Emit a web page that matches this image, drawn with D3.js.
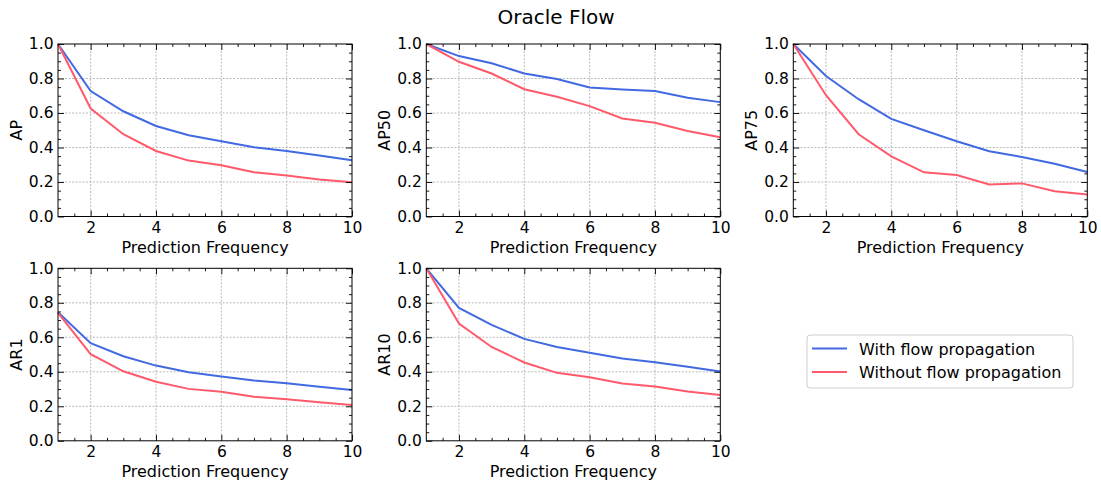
<!DOCTYPE html>
<html><head><meta charset="utf-8">
<script src="https://cdn.jsdelivr.net/npm/d3@7"></script>
<style>body{margin:0;background:#fff}svg{display:block}text{font-family:"DejaVu Sans",sans-serif;fill:#000}</style>
</head><body><svg id="c" width="1101" height="484"></svg>
<script>
const frequencies = [1,2,3,4,5,6,7,8,9,10];
const metrics = ["AP","AP50","AP75","AR1","AR10"];
const seriesNames = ["With flow propagation","Without flow propagation"];
const withFlow = {
  AP:   [1.0,0.727,0.610,0.525,0.471,0.436,0.401,0.380,0.353,0.326],
  AP50: [1.0,0.930,0.888,0.829,0.797,0.748,0.736,0.727,0.688,0.663],
  AP75: [1.0,0.814,0.680,0.566,0.500,0.436,0.378,0.345,0.306,0.258],
  AR1:  [0.745,0.566,0.490,0.436,0.398,0.373,0.349,0.334,0.313,0.295],
  AR10: [1.0,0.770,0.672,0.591,0.544,0.510,0.477,0.456,0.429,0.402]
};
const withoutFlow = {
  AP:   [1.0,0.626,0.477,0.380,0.324,0.297,0.256,0.238,0.215,0.198],
  AP50: [1.0,0.897,0.829,0.738,0.694,0.640,0.568,0.543,0.496,0.459],
  AP75: [1.0,0.703,0.477,0.349,0.256,0.240,0.186,0.192,0.147,0.128],
  AR1:  [0.741,0.502,0.403,0.342,0.301,0.284,0.255,0.241,0.224,0.208],
  AR10: [1.0,0.680,0.544,0.454,0.394,0.369,0.332,0.315,0.286,0.266]
};
const xMajorTicks = [2,4,6,8,10];
const yMajorTicks = [0,0.2,0.4,0.6,0.8,1.0];
const title = "Oracle Flow";
const xLabel = "Prediction Frequency";
const colors = ["#4169e1","#ff5a6b"];

const svg = d3.select("#c");
svg.append("text").attr("x",556).attr("y",23.5).attr("text-anchor","middle")
  .attr("font-size",20).text(title);

const colsX = [58, 426.3, 793.3];
const rowsY = [44, 268.3];
const W = 294, H = 172.5;

metrics.forEach((m,i)=>{
  const col = i%3, row = Math.floor(i/3);
  const g = svg.append("g").attr("transform",`translate(${colsX[col]},${rowsY[row]})`);
  const x = d3.scaleLinear().domain([1,10]).range([0,W]);
  const y = d3.scaleLinear().domain([0,1]).range([H,0]);
  const xMinor = d3.range(1.5,10,0.5).filter(v=>!xMajorTicks.includes(v));
  const yMinor = d3.range(0.05,1,0.05).map(v=>+v.toFixed(2)).filter(v=>!yMajorTicks.some(t=>Math.abs(t-v)<1e-6));
  // grid
  g.append("g").selectAll("line").data(xMajorTicks.filter(v=>v<10)).join("line")
    .attr("x1",d=>x(d)).attr("x2",d=>x(d)).attr("y1",0).attr("y2",H)
    .attr("stroke","#aaa").attr("stroke-width",0.8).attr("stroke-dasharray","2,1.5");
  g.append("g").selectAll("line").data(yMajorTicks.filter(v=>v>0&&v<1)).join("line")
    .attr("y1",d=>y(d)).attr("y2",d=>y(d)).attr("x1",0).attr("x2",W)
    .attr("stroke","#aaa").attr("stroke-width",0.8).attr("stroke-dasharray","2,1.5");
  // lines
  const line = d3.line().x((d,k)=>x(frequencies[k])).y(d=>y(d));
  [withFlow[m], withoutFlow[m]].forEach((vals,s)=>{
    g.append("path").datum(vals).attr("d",line).attr("fill","none")
      .attr("stroke",colors[s]).attr("stroke-width",2);
  });
  // axes with inward ticks
  const tickStyle = sel=>{sel.selectAll(".domain").remove();sel.selectAll("line").attr("stroke","#000").attr("stroke-width",0.9);};
  const bottom = g.append("g").attr("transform",`translate(0,${H})`)
    .call(d3.axisBottom(x).tickValues(xMajorTicks).tickSize(-6).tickPadding(5.3).tickFormat(d3.format("d")));
  bottom.call(tickStyle); bottom.selectAll("text").attr("font-size",15.5).attr("fill","#000");
  g.append("g").attr("transform",`translate(0,${H})`).call(d3.axisBottom(x).tickValues(xMinor).tickSize(-3).tickFormat("")).call(tickStyle);
  g.append("g").call(d3.axisTop(x).tickValues(xMajorTicks).tickSize(-6).tickFormat("")).call(tickStyle);
  g.append("g").call(d3.axisTop(x).tickValues(xMinor).tickSize(-3).tickFormat("")).call(tickStyle);
  const left = g.append("g").call(d3.axisLeft(y).tickValues(yMajorTicks).tickSize(-6).tickPadding(4.5).tickFormat(d3.format(".1f")));
  left.call(tickStyle); left.selectAll("text").attr("font-size",15.5).attr("fill","#000");
  g.append("g").call(d3.axisLeft(y).tickValues(yMinor).tickSize(-3).tickFormat("")).call(tickStyle);
  g.append("g").attr("transform",`translate(${W},0)`).call(d3.axisRight(y).tickValues(yMajorTicks).tickSize(-6).tickFormat("")).call(tickStyle);
  g.append("g").attr("transform",`translate(${W},0)`).call(d3.axisRight(y).tickValues(yMinor).tickSize(-3).tickFormat("")).call(tickStyle);
  g.append("rect").attr("width",W).attr("height",H).attr("fill","none").attr("stroke","#000").attr("stroke-width",1);
  g.append("text").attr("x",W/2).attr("y",H+36).attr("text-anchor","middle").attr("font-size",16).text(xLabel);
  g.append("text").attr("transform",`translate(-36,${H/2}) rotate(-90)`).attr("text-anchor","middle").attr("font-size",16).text(m);
});

// legend
const lg = svg.append("g").attr("transform","translate(807,335)");
lg.append("rect").attr("width",266).attr("height",53).attr("rx",3).attr("fill","#fff").attr("stroke","#ccc").attr("stroke-width",1);
seriesNames.forEach((n,s)=>{
  const yy = 13.5 + s*23.5;
  lg.append("line").attr("x1",5).attr("x2",40).attr("y1",yy).attr("y2",yy).attr("stroke",colors[s]).attr("stroke-width",2);
  lg.append("text").attr("x",52).attr("y",yy+6).attr("font-size",16).text(n);
});
</script></body></html>
